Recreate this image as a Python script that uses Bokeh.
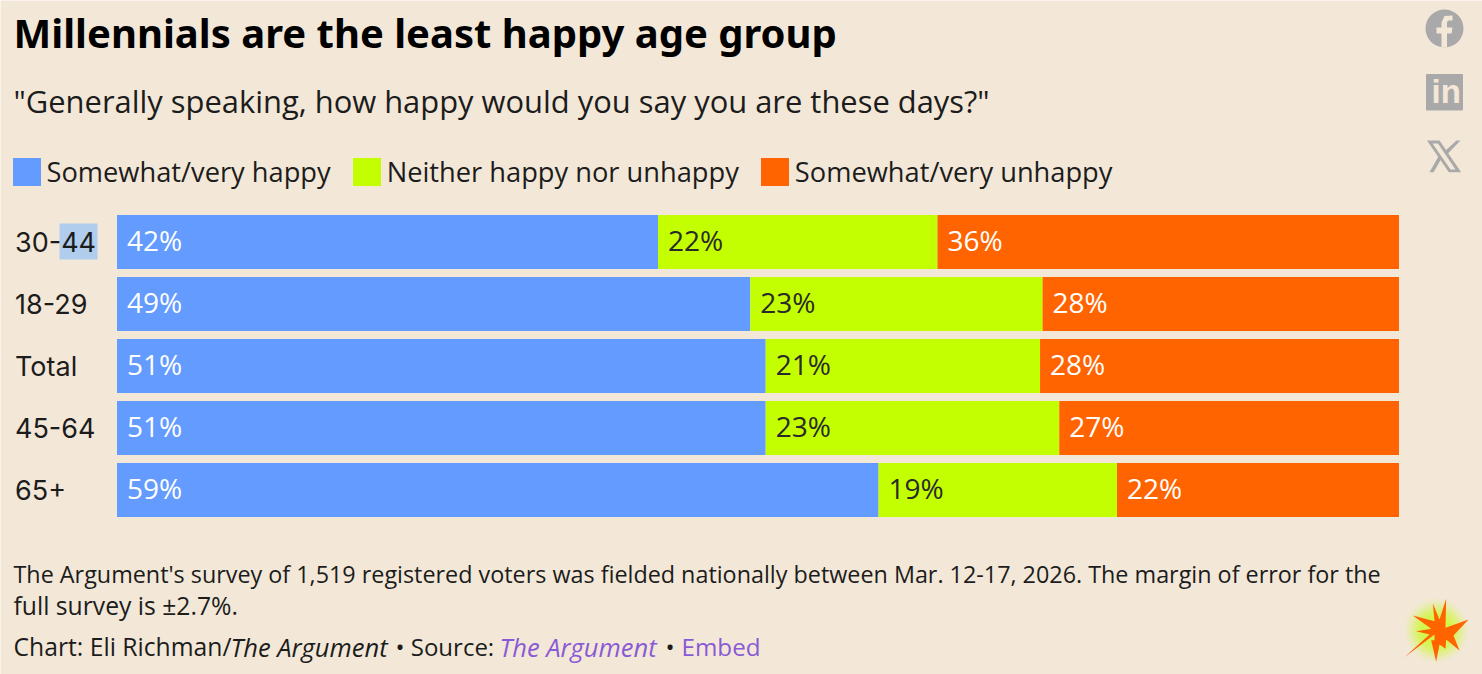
from bokeh.plotting import figure
from bokeh.models import Range1d, ColumnDataSource, Legend, LegendItem
from bokeh.core.properties import value
from bokeh.embed import file_html
from bokeh.resources import INLINE

ages = ["30-44", "18-29", "Total", "45-64", "65+"]
happy = [42.2, 49.4, 50.6, 50.6, 59.4]
neither = [21.8, 22.8, 21.4, 22.9, 18.6]
unhappy = [36.0, 27.8, 28.0, 26.5, 22.0]
happy_labels = ["42%", "49%", "51%", "51%", "59%"]
neither_labels = ["22%", "23%", "21%", "23%", "19%"]
unhappy_labels = ["36%", "28%", "28%", "27%", "22%"]
series_names = ["Somewhat/very happy", "Neither happy nor unhappy", "Somewhat/very unhappy"]

BG = "#f3e8d8"
BLUE, LIME, ORANGE = "#639bff", "#c3ff00", "#ff6400"
INK = "#1c1c1c"
GRAY = "#a9a9a9"
PURPLE = "#8a5ad6"
FONT = "Open Sans"
W, H = 1482, 674
PX_PER_PCT = 12.82

p = figure(width=W, height=H, output_backend="svg", toolbar_location=None,
           x_range=Range1d(-116.5 / PX_PER_PCT, (W - 116.5) / PX_PER_PCT),
           y_range=Range1d((H - 241.5) / 62, -241.5 / 62),
           min_border=0, margin=0,
           background_fill_color=BG, border_fill_color=BG, outline_line_color=None)
p.axis.visible = False
p.grid.visible = False
p.extra_x_ranges["px"] = Range1d(1, W + 1)
p.extra_y_ranges["px"] = Range1d(H + 1, 1)

idx = list(range(len(ages)))
left2 = [a for a in happy]
left3 = [a + b for a, b in zip(happy, neither)]
src = ColumnDataSource(dict(y=idx, age=ages, happy=happy, neither=neither, unhappy=unhappy,
                            l2=left2, l3=left3, hl=happy_labels, nl=neither_labels, ul=unhappy_labels,
                            zero=[0] * 5))
r1, r2, r3 = p.hbar_stack(["happy", "neither", "unhappy"], y="y", height=54 / 62, source=src,
                          color=[BLUE, LIME, ORANGE], line_color=None)

def seg_text(x, col, color):
    p.text(x=x, y="y", text=col, source=src, x_offset=10, y_offset=-2, text_color=color,
           text_font=value(FONT), text_font_size="28px", text_baseline="middle", text_align="left")

seg_text("zero", "hl", "#ffffff")
seg_text("l2", "nl", "#2a2a2a")
seg_text("l3", "ul", "#ffffff")

def t(x, y, s, size, color=INK, weight="normal", style="normal", font=FONT):
    p.text(x=[x], y=[y], text=[s], x_range_name="px", y_range_name="px", text_color=color,
           text_font=value(font), text_font_size=f"{size}px", text_font_style=(
               "bold italic" if weight == "bold" and style == "italic" else weight if weight == "bold" else style),
           text_baseline="middle", text_align="left")

def poly(xs, ys, color):
    p.patch(x=xs, y=ys, x_range_name="px", y_range_name="px", fill_color=color, line_color=None)

# selection highlight behind "44"
p.quad(left=[60], right=[98], top=[224], bottom=[260], x_range_name="px", y_range_name="px",
       fill_color="#b0cdee", line_color=None, level="underlay")
p.text(x="zero", y="y", text="age", source=src, x_offset=-102, y_offset=0, text_color=INK,
       text_font=value("Inter"), text_font_size="27px", text_baseline="middle", text_align="left")

t(14, 33, "Millennials are the least happy age group", 40, "#000000", weight="bold", font="Noto Sans")
t(14, 101, '"Generally speaking, how happy would you say you are these days?"', 30.9)

leg = Legend(items=[LegendItem(label=n, renderers=[r]) for n, r in zip(series_names, (r1, r2, r3))],
             orientation="horizontal", location=(8.5, 484), background_fill_alpha=0, border_line_color=None,
             glyph_width=35, glyph_height=35, label_text_font=FONT, label_text_font_size="27.25px",
             label_text_color=INK, label_standoff=3, spacing=18, padding=8, margin=0,
             label_height=35, label_text_baseline="middle")
p.add_layout(leg, "center")

t(14, 574, "The Argument's survey of 1,519 registered voters was fielded nationally between Mar. 12-17, 2026. The margin of error for the", 23.35)
t(14, 606, "full survey is \u00b12.7%.", 24.7)
t(14, 647, "Chart: Eli Richman/", 24.7)
t(231, 647, "The Argument", 25.5, style="italic")
t(396, 647, "\u2022 Source:", 24)
t(500, 647, "The Argument", 25.5, PURPLE, style="italic")
t(666, 647, "\u2022", 24.2)
t(682, 647, "Embed", 24.2, PURPLE)

# Social icons
p.circle(x=[1445], y=[29], radius=19, x_range_name="px", y_range_name="px", fill_color=GRAY, line_color=None)
poly([1442, 1442, 1437, 1437, 1442, 1442, 1445, 1453, 1453, 1449, 1447.5, 1447.5, 1453, 1452, 1447.5, 1447.5],
     [48, 34, 34, 28, 28, 23, 16.5, 16, 21, 21, 22.5, 28, 28, 34, 34, 48], BG)
p.quad(left=[1427], right=[1463], top=[75], bottom=[110.5], x_range_name="px", y_range_name="px",
       fill_color=GRAY, line_color=GRAY, line_width=1)
t(1432, 92, "in", 33, BG, weight="bold", font="Liberation Sans")
poly([1427.5, 1440, 1461.7, 1449.3], [141, 141, 172.7, 172.7], GRAY)
poly([1433, 1438.5, 1456, 1451], [144, 144, 170, 170], BG)
poly([1457, 1461, 1447, 1444.5], [141, 141, 155.5, 152.5], GRAY)
poly([1439.5, 1442, 1434, 1430], [156, 159, 172.7, 172.7], GRAY)

# Logo burst with glow
for r, a in [(32, .06), (29, .10), (26, .14), (23, .18), (20, .22), (16, .25)]:
    p.circle(x=[1437], y=[631], radius=r, x_range_name="px", y_range_name="px", fill_color=LIME, fill_alpha=a, line_color=None)
burst = [(75, 203), (150, 135), (110, 125), (155, 118), (100, 78), (165, 95), (160, 42), (180, 90), (200, 28), (198, 115),
         (267, 90), (222, 138), (240, 183), (200, 150), (198, 178), (180, 165), (170, 217), (155, 152), (165, 152), (165, 135)]
poly([1380 + a / 3 for a, _ in burst], [590 + b / 3 for _, b in burst], ORANGE)

open("out.html", "w").write(file_html(p, INLINE))
